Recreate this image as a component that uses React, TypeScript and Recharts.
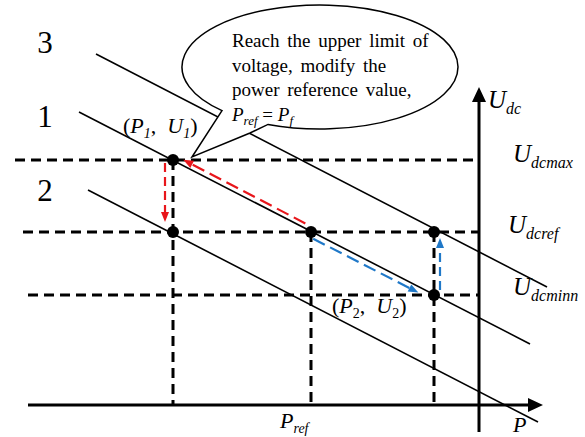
import { ScatterChart, Scatter, XAxis, YAxis, ReferenceLine, ReferenceDot } from "recharts";

// DC voltage levels on the U axis
const U_MAX = 24.5;
const U_REF = 17.3;
const U_MIN = 11.0;
const uLevels = [U_MAX, U_REF, U_MIN];
const uNames = ["dcmax", "dcref", "dcminn"];

// power values of the operating points
const P1 = -30.6;
const P_REF = -16.8;
const P2 = -4.5;

// droop characteristics, numbered 3 / 1 / 2, each drawn between two (P, U) ends
const droopNames = ["3", "1", "2"];
const droopFromP = [-38.3, -40.0, -39.1];
const droopFromU = [35.1, 29.3, 21.5];
const droopToP = [6.8, 5.1, 5.9];
const droopToU = [11.8, 6.1, -1.7];

// operating points marked with dots
const points = [
  { p: P1, u: U_MAX },
  { p: P1, u: U_REF },
  { p: P_REF, u: U_REF },
  { p: P2, u: U_REF },
  { p: P2, u: U_MIN },
];

// axis extents
const P_AXIS = [-45.1, 6.4];
const U_AXIS = [-2.7, 31.8];

// layout (data units: 1 unit = 10px)
const guideStartP = [-46.4, -45.6, -45.1];
const numberP = -43.4;
const numberU = [35.2, 27.8, 20.4];
const BUBBLE_CENTER = { p: -15.9, u: 33.8 };
const BUBBLE_TIP = { p: -28.7, u: 24.8 };

const serif = "'Liberation Serif', 'Times New Roman', serif";

type Part = { t: string; sub?: boolean; it?: boolean };

function Rich({ x, y, parts, size, subSize, shift, anchor = "start", wordSpacing = 0 }: any) {
  let prevSub = false;
  return (
    <text x={x} y={y} fontFamily={serif} fontSize={size} textAnchor={anchor} fill="#000" style={{ wordSpacing }}>
      {parts.map((p: Part, i: number) => {
        const dy = p.sub && !prevSub ? shift : !p.sub && prevSub ? -shift : 0;
        prevSub = !!p.sub;
        return (
          <tspan key={i} dy={dy} fontSize={p.sub ? subSize : size} fontStyle={p.it ? "italic" : "normal"}>
            {p.t}
          </tspan>
        );
      })}
    </text>
  );
}

const textAt = (dx: number, dy: number, parts: Part[], size: number, subSize = 16, shift = 6, anchor = "start") =>
  (p: any) => (
    <Rich x={p.cx + dx} y={p.cy + dy} parts={parts} size={size} subSize={subSize} shift={shift} anchor={anchor} />
  );

function head(x: number, y: number, ux: number, uy: number, len: number, half: number) {
  const bx = x - ux * len;
  const by = y - uy * len;
  return `${x},${y} ${bx - uy * half},${by + ux * half} ${bx + uy * half},${by - ux * half}`;
}

const axisShape = (p: any) => {
  const { x1, y1, x2, y2 } = p;
  const len = Math.hypot(x2 - x1, y2 - y1);
  const ux = (x2 - x1) / len;
  const uy = (y2 - y1) / len;
  return (
    <g>
      <line x1={x1} y1={y1} x2={x2 - ux * 12} y2={y2 - uy * 12} stroke="#000" strokeWidth={3} />
      <polygon points={head(x2, y2, ux, uy, 15, 7)} fill="#000" />
    </g>
  );
};

// dashed move between two operating points, shifted sideways and trimmed at both ends
const moveShape = (color: string, dash: string, offset: number, trimA: number, trimB: number) => (p: any) => {
  const { x1, y1, x2, y2 } = p;
  const len = Math.hypot(x2 - x1, y2 - y1);
  const ux = (x2 - x1) / len;
  const uy = (y2 - y1) / len;
  const nx = -uy * offset;
  const ny = ux * offset;
  const sx = x1 + ux * trimA + nx;
  const sy = y1 + uy * trimA + ny;
  const ex = x2 - ux * trimB + nx;
  const ey = y2 - uy * trimB + ny;
  return (
    <g>
      <line x1={sx} y1={sy} x2={ex - ux * 8} y2={ey - uy * 8} stroke={color} strokeWidth={2.2} strokeDasharray={dash} />
      <polygon points={head(ex, ey, ux, uy, 10, 4)} fill={color} />
    </g>
  );
};

const bubbleLines: Part[][] = [
  [{ t: "Reach the upper limit of" }],
  [{ t: "voltage, modify the" }],
  [{ t: "power reference value," }],
  [{ t: "P", it: true }, { t: "ref", it: true, sub: true }, { t: " = " }, { t: "P", it: true }, { t: "f", it: true, sub: true }],
];

// speech bubble: ellipse around (x1, y1) with a tail pointing to (x2, y2)
const bubbleShape = (p: any) => {
  const { x1: cx, y1: cy, x2, y2 } = p;
  const rx = 138;
  const ry = 62;
  const onEllipse = (dx: number) => cy + ry * Math.sqrt(1 - (dx / rx) ** 2);
  const ax = cx - 98;
  const bx = cx - 52;
  const path =
    `M ${bx} ${onEllipse(-52)} A ${rx} ${ry} 0 1 0 ${ax} ${onEllipse(-98)} ` +
    `L ${x2} ${y2} L ${cx - 70} ${cy + 66} Z`;
  return (
    <g>
      <path d={path} fill="#fff" stroke="#000" strokeWidth={1.5} strokeLinejoin="miter" />
      {bubbleLines.map((parts, i) => (
        <Rich key={i} x={cx - 88} y={cy - 20 + i * 24.5} parts={parts} size={19} subSize={13} shift={4}
          wordSpacing={i < 3 ? 3 : 0} />
      ))}
    </g>
  );
};

const dot = (p: any) => <circle cx={p.cx} cy={p.cy} r={6} fill="#000" />;

const Ud = (sub: string): Part[] => [{ t: "U", it: true }, { t: sub, it: true, sub: true }];

export default function App() {
  return (
    <div style={{ position: "absolute", left: 0, top: 0, width: 585, height: 437, background: "#fff" }}>
      <ScatterChart width={585} height={437} margin={{ top: 0, right: 0, bottom: 0, left: 0 }}>
        <XAxis type="number" dataKey="p" domain={[-47.9, 10.6]} allowDataOverflow hide />
        <YAxis type="number" dataKey="u" domain={[-3.2, 40.5]} allowDataOverflow hide />

        {/* dashed guides for the voltage levels and the operating powers */}
        {uLevels.map((u, i) => (
          <ReferenceLine
            key={`h${i}`}
            ifOverflow="visible"
            segment={[{ x: guideStartP[i], y: u }, { x: 0, y: u }]}
            stroke="#000"
            strokeWidth={3}
            strokeDasharray="10 6"
          />
        ))}
        {points
          .filter((pt, i) => i === 0 || i === 2 || i === 3)
          .map((pt, i) => (
            <ReferenceLine
              key={`v${i}`}
              ifOverflow="visible"
              segment={[{ x: pt.p, y: pt.u }, { x: pt.p, y: 0 }]}
              stroke="#000"
              strokeWidth={3}
              strokeDasharray="10 6"
            />
          ))}

        {/* droop characteristics */}
        {droopNames.map((n, i) => (
          <ReferenceLine
            key={`d${n}`}
            ifOverflow="visible"
            segment={[{ x: droopFromP[i], y: droopFromU[i] }, { x: droopToP[i], y: droopToU[i] }]}
            stroke="#000"
            strokeWidth={1.6}
          />
        ))}

        {/* P and U axes */}
        <ReferenceLine ifOverflow="visible" segment={[{ x: P_AXIS[0], y: 0 }, { x: P_AXIS[1], y: 0 }]} shape={axisShape} />
        <ReferenceLine ifOverflow="visible" segment={[{ x: 0, y: U_AXIS[0] }, { x: 0, y: U_AXIS[1] }]} shape={axisShape} />

        <ReferenceLine
          ifOverflow="visible"
          segment={[{ x: BUBBLE_CENTER.p, y: BUBBLE_CENTER.u }, { x: BUBBLE_TIP.p, y: BUBBLE_TIP.u }]}
          shape={bubbleShape}
        />

        {/* operating point moves */}
        <ReferenceLine
          ifOverflow="visible"
          segment={[{ x: P_REF, y: U_REF }, { x: P1, y: U_MAX }]}
          shape={moveShape("#e8161b", "13 6", 5, 9, 9)}
        />
        <ReferenceLine
          ifOverflow="visible"
          segment={[{ x: P1, y: U_MAX }, { x: P1, y: U_REF }]}
          shape={moveShape("#e8161b", "9 5", 8, 3, 10)}
        />
        <ReferenceLine
          ifOverflow="visible"
          segment={[{ x: P_REF, y: U_REF }, { x: P2, y: U_MIN }]}
          shape={moveShape("#1f78c8", "13 6", 5, 5, 15)}
        />
        <ReferenceLine
          ifOverflow="visible"
          segment={[{ x: P2, y: U_MIN }, { x: P2, y: U_REF }]}
          shape={moveShape("#1f78c8", "9 5", 6, 5, 6)}
        />

        <Scatter data={points} shape={dot} isAnimationActive={false} />

        {/* labels */}
        {droopNames.map((n, i) => (
          <ReferenceDot key={`n${n}`} ifOverflow="visible" x={numberP} y={numberU[i]} r={0}
            shape={textAt(0, 0, [{ t: n }], 31, 16, 6, "middle")} />
        ))}
        <ReferenceDot ifOverflow="visible" x={0} y={U_AXIS[1]} r={0} shape={textAt(9, 21, Ud("dc"), 25)} />
        {uLevels.map((u, i) => (
          <ReferenceDot key={`u${i}`} ifOverflow="visible" x={0} y={u} r={0}
            shape={textAt([34, 29, 34][i], [2, 1, 0][i], Ud(uNames[i]), 25)} />
        ))}
        <ReferenceDot ifOverflow="visible" x={P1} y={U_MAX} r={0}
          shape={textAt(-50, -27, [
            { t: "(" }, { t: "P", it: true }, { t: "1", it: true, sub: true }, { t: ",\u00A0\u00A0" },
            { t: "U", it: true }, { t: "1", it: true, sub: true }, { t: ")" },
          ], 22, 14, 5)} />
        <ReferenceDot ifOverflow="visible" x={P2} y={U_MIN} r={0}
          shape={textAt(-102, 18, [
            { t: "(" }, { t: "P", it: true }, { t: "2", sub: true }, { t: ",\u00A0\u00A0" },
            { t: "U", it: true }, { t: "2", sub: true }, { t: ")" },
          ], 22, 14, 5)} />
        <ReferenceDot ifOverflow="visible" x={P_REF} y={0} r={0}
          shape={textAt(-31, 23, [{ t: "P", it: true }, { t: "ref", it: true, sub: true }], 22, 14, 5)} />
        <ReferenceDot ifOverflow="visible" x={0} y={0} r={0}
          shape={textAt(34, 27, [{ t: "P", it: true }], 22)} />
      </ScatterChart>
    </div>
  );
}
